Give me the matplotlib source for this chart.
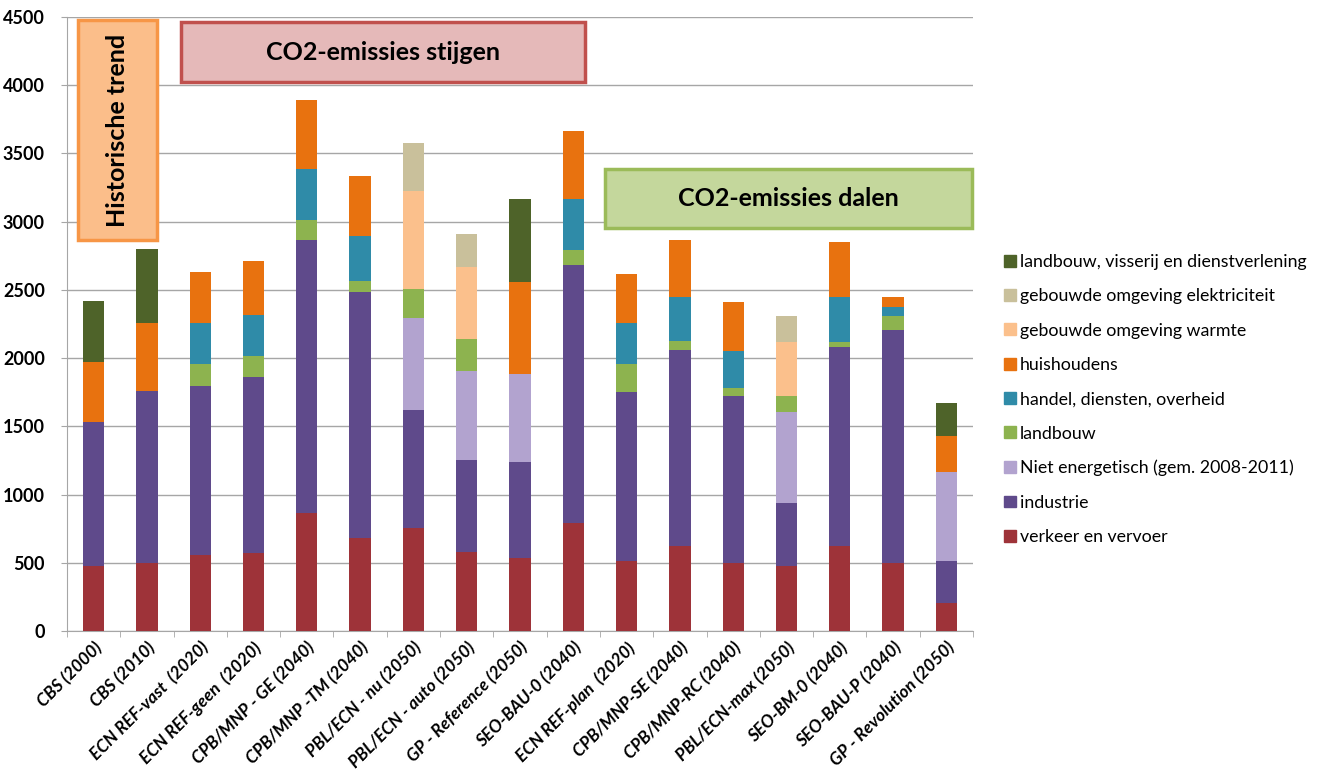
import matplotlib
matplotlib.use("Agg")
import matplotlib.pyplot as plt
import numpy as np
from matplotlib.patches import Rectangle, Patch

plt.rcParams['font.family'] = ['Lato', 'DejaVu Sans']

SCEN = ["CBS (2000)", "CBS (2010)", "ECN REF-vast  (2020)", "ECN REF-geen  (2020)",
        "CPB/MNP - GE (2040)", "CPB/MNP -TM (2040)", "PBL/ECN - nu (2050)",
        "PBL/ECN - auto (2050)", "GP - Reference (2050)", "SEO-BAU-0 (2040)",
        "ECN REF-plan  (2020)", "CPB/MNP-SE (2040)", "CPB/MNP-RC (2040)",
        "PBL/ECN-max (2050)", "SEO-BM-0 (2040)", "SEO-BAU-P (2040)", "GP - Revolution (2050)"]

# stacked from bottom to top
verkeer   = [476, 500, 555, 573, 865, 683, 758, 576, 537, 789, 516, 622, 495, 476, 622, 495, 203]
industrie = [1056, 1260, 1244, 1287, 2002, 1805, 859, 677, 698, 1890, 1235, 1441, 1225, 465, 1462, 1711, 307]
niet_en   = [0, 0, 0, 0, 0, 0, 674, 652, 646, 0, 0, 0, 0, 667, 0, 0, 658]
landbouw  = [0, 0, 158, 152, 146, 76, 212, 234, 0, 112, 206, 61, 61, 112, 37, 100, 0]
handel    = [0, 0, 303, 303, 376, 333, 0, 0, 0, 373, 297, 324, 273, 0, 327, 70, 0]
huish     = [440, 500, 373, 400, 504, 440, 0, 0, 677, 504, 361, 419, 358, 0, 404, 72, 258]
warmte    = [0, 0, 0, 0, 0, 0, 722, 531, 0, 0, 0, 0, 0, 395, 0, 0, 0]
elektr    = [0, 0, 0, 0, 0, 0, 355, 243, 0, 0, 0, 0, 0, 191, 0, 0, 0]
lvd       = [449, 540, 0, 0, 0, 0, 0, 0, 606, 0, 0, 0, 0, 0, 0, 0, 243]

SERIES = [("verkeer en vervoer", verkeer, "#9E3339"),
          ("industrie", industrie, "#5F4A8B"),
          ("Niet energetisch (gem. 2008-2011)", niet_en, "#B2A3CF"),
          ("landbouw", landbouw, "#8DB34F"),
          ("handel, diensten, overheid", handel, "#2F8BA8"),
          ("huishoudens", huish, "#E8720F"),
          ("gebouwde omgeving warmte", warmte, "#FBC08C"),
          ("gebouwde omgeving elektriciteit", elektr, "#C9C09B"),
          ("landbouw, visserij en dienstverlening", lvd, "#4E6329")]

W, H = 1321, 780
fig = plt.figure(figsize=(W/100, H/100), dpi=100)
ax = fig.add_axes([67/W, 1-631/H, (973-67)/W, (631-17)/H])

x = np.arange(len(SCEN))
bottom = np.zeros(len(SCEN))
for name, vals, col in SERIES:
    v = np.array(vals, float)
    ax.bar(x, v, 0.4, bottom=bottom, color=col, zorder=3)
    bottom += v

ax.set_xlim(-0.5, len(SCEN)-0.5)
ax.set_ylim(0, 4500)
ax.set_yticks(np.arange(0, 4501, 500))
ax.yaxis.grid(True, color="#A6A6A6", lw=1, zorder=0)
for s in ("top", "right"):
    ax.spines[s].set_visible(False)
for s in ("left", "bottom"):
    ax.spines[s].set_color("#A6A6A6")
ax.tick_params(axis="y", colors="#A6A6A6", labelcolor="black", labelsize=13, length=4, pad=12)
for t in ax.get_yticklabels():
    t.set_fontweight("bold")
ax.set_xticks(x)
ax.set_xticklabels(SCEN, rotation=45, ha="right", va="top", rotation_mode="anchor",
                   fontsize=12.5, fontweight="bold", fontstyle="italic")
ax.tick_params(axis="x", length=0, pad=6)
ax.set_xticks(np.arange(-0.5, len(SCEN)), minor=True)
ax.tick_params(axis="x", which="minor", length=4, colors="#A6A6A6")


def box(x0, y0, x1, y1, fc, ec, text, rot=0):
    r = Rectangle((x0/W, 1-y1/H), (x1-x0)/W, (y1-y0)/H, transform=fig.transFigure,
                  fc=fc, ec=ec, lw=2.5, zorder=5)
    fig.patches.append(r)
    fig.text((x0+x1)/2/W, 1-(y0+y1)/2/H, text, rotation=rot, ha="center", va="center",
             fontsize=18, fontweight="bold", color="black", zorder=6)


box(78, 20, 157, 240, "#FBBE8A", "#F79646", "Historische trend", rot=90)
box(181, 22, 585, 82, "#E5B9B9", "#C0504D", "CO2-emissies stijgen")
box(605, 169, 972, 228, "#C4D79C", "#9BBB59", "CO2-emissies dalen")

handles = [Patch(color=c, label=n) for n, _, c in SERIES][::-1]
fig.legend(handles=handles, loc="upper left", bbox_to_anchor=(988/W, 1-238/H),
           frameon=False, fontsize=12.8, handlelength=0.65, handleheight=0.65,
           handletextpad=0.25, labelspacing=1.03)

fig.savefig("out.png", dpi=100, facecolor="white")
